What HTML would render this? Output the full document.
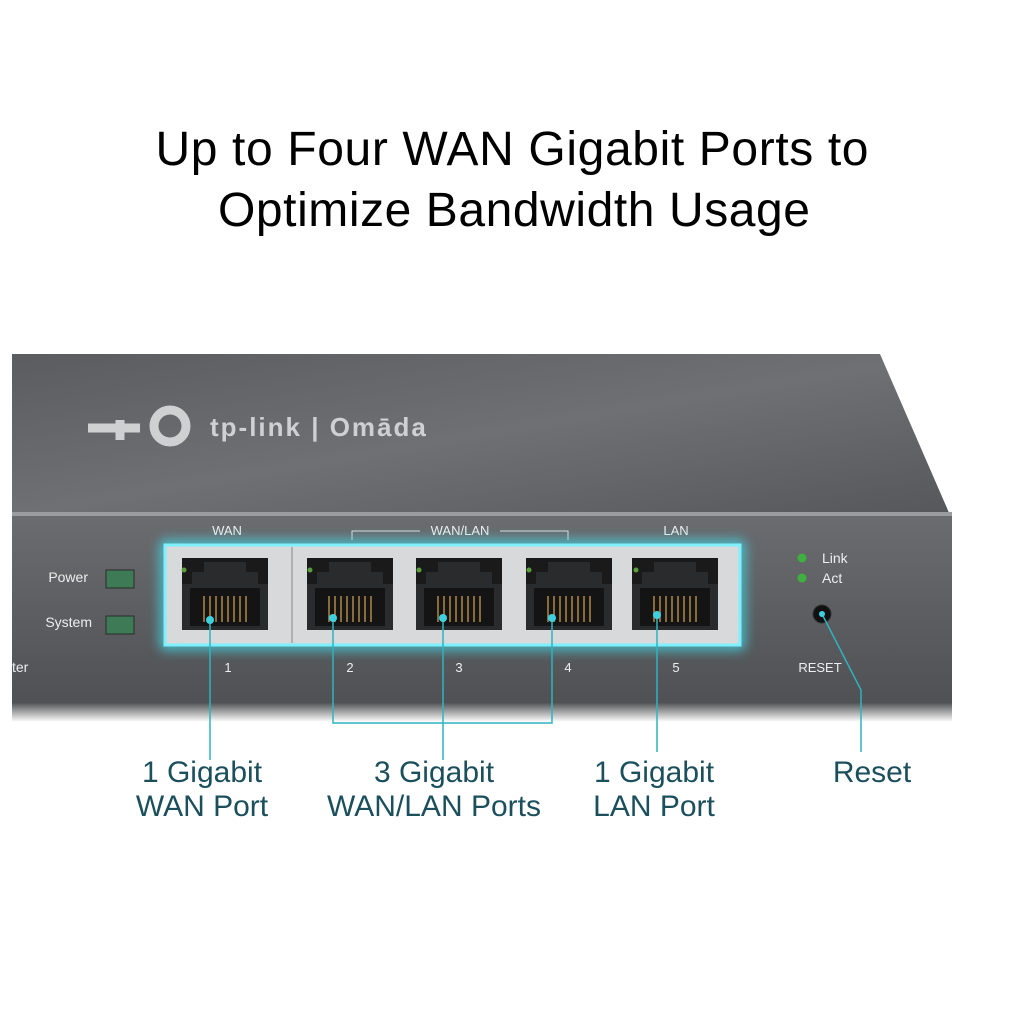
<!DOCTYPE html>
<html><head><meta charset="utf-8"><style>
html,body{margin:0;padding:0;background:#fff;}
body{width:1024px;height:1024px;overflow:hidden;}
</style></head><body>
<svg width="1024" height="1024" viewBox="0 0 1024 1024" xmlns="http://www.w3.org/2000/svg" font-family="Liberation Sans, sans-serif">
<defs>
<linearGradient id="top" x1="0" y1="0" x2="1" y2="1">
<stop offset="0" stop-color="#5a5c5f"/><stop offset="0.5" stop-color="#6e7073"/><stop offset="1" stop-color="#55575a"/>
</linearGradient>
<linearGradient id="front" x1="0" y1="0" x2="0" y2="1">
<stop offset="0" stop-color="#6a6c6f"/><stop offset="1" stop-color="#4f5154"/>
</linearGradient>
<linearGradient id="shadow" x1="0" y1="0" x2="0" y2="1">
<stop offset="0" stop-color="#3a3b3d"/><stop offset="1" stop-color="#ffffff"/>
</linearGradient>
<filter id="glow" x="-20%" y="-40%" width="140%" height="180%"><feGaussianBlur stdDeviation="6"/></filter>
<g id="port">
<rect x="0" y="0" width="86" height="72" fill="#1a1a1b"/>
<path d="M22 4 H64 V14 H76 V26 H86 V72 H0 V26 H10 V14 H22 Z" fill="#2a2b2c"/>
<rect x="8" y="30" width="70" height="38" fill="#141414"/>
<g stroke="#b08a4a" stroke-width="1.5">
<line x1="22" y1="38" x2="22" y2="64"/><line x1="28" y1="38" x2="28" y2="64"/><line x1="34" y1="38" x2="34" y2="64"/><line x1="40" y1="38" x2="40" y2="64"/><line x1="46" y1="38" x2="46" y2="64"/><line x1="52" y1="38" x2="52" y2="64"/><line x1="58" y1="38" x2="58" y2="64"/><line x1="64" y1="38" x2="64" y2="64"/>
</g>
</g>
</defs>
<text x="512" y="165" font-size="48" text-anchor="middle" fill="#000" textLength="713">Up to Four WAN Gigabit Ports to</text>
<text x="514" y="226" font-size="48" text-anchor="middle" fill="#000" textLength="592">Optimize Bandwidth Usage</text>

<rect x="12" y="700" width="940" height="22" fill="url(#shadow)"/>
<polygon points="12,354 880,354 950,515 12,515" fill="url(#top)"/>
<rect x="12" y="512" width="940" height="4" fill="#9a9c9e"/>
<rect x="12" y="516" width="940" height="186" fill="url(#front)"/>
<text x="210" y="436" font-size="26" fill="#cfd0d1" font-weight="bold" letter-spacing="2">tp-link | Omāda</text>
<path d="M88 428 H140 M120 420 V440" stroke="#cfd0d1" stroke-width="9"/>
<circle cx="170" cy="426" r="16" fill="none" stroke="#cfd0d1" stroke-width="9"/>

<text x="227" y="535" font-size="13" fill="#eee" text-anchor="middle">WAN</text>
<text x="460" y="535" font-size="13" fill="#eee" text-anchor="middle">WAN/LAN</text>
<path d="M352 540 V531 H420 M500 531 H568 V540" stroke="#ddd" fill="none"/>
<text x="676" y="535" font-size="13" fill="#eee" text-anchor="middle">LAN</text>
<text x="88" y="582" font-size="14" fill="#eee" text-anchor="end">Power</text>
<text x="92" y="627" font-size="14" fill="#eee" text-anchor="end">System</text>
<rect x="106" y="570" width="28" height="18" fill="#3d7a55" stroke="#2a2a2a"/>
<rect x="106" y="616" width="28" height="18" fill="#3d7a55" stroke="#2a2a2a"/>
<text x="12" y="672" font-size="14" fill="#eee">ter</text>

<rect x="165" y="545" width="575" height="100" fill="none" stroke="#3fe0f0" stroke-width="8" filter="url(#glow)"/>
<rect x="165" y="545" width="575" height="100" fill="#d8d9da" stroke="#7ff0ff" stroke-width="3"/>
<line x1="292" y1="547" x2="292" y2="643" stroke="#888"/>
<use href="#port" x="182" y="558"/>
<use href="#port" x="307" y="558"/>
<use href="#port" x="416" y="558"/>
<use href="#port" x="526" y="558"/>
<use href="#port" x="632" y="558"/>
<g fill="#5a9e3a"><circle cx="184" cy="570" r="2.5"/><circle cx="310" cy="570" r="2.5"/><circle cx="419" cy="570" r="2.5"/><circle cx="529" cy="570" r="2.5"/><circle cx="636" cy="570" r="2.5"/></g>

<g font-size="13" fill="#eee" text-anchor="middle">
<text x="228" y="672">1</text><text x="350" y="672">2</text><text x="459" y="672">3</text><text x="568" y="672">4</text><text x="676" y="672">5</text>
<text x="820" y="672">RESET</text>
</g>
<circle cx="802" cy="558" r="4.5" fill="#3fb03f"/><circle cx="802" cy="578" r="4.5" fill="#3fb03f"/>
<text x="822" y="563" font-size="14" fill="#eee">Link</text>
<text x="822" y="583" font-size="14" fill="#eee">Act</text>
<circle cx="822" cy="614" r="9" fill="#111" stroke="#333"/>

<g stroke="#2fb3c2" stroke-width="1.5" fill="none">
<line x1="210" y1="620" x2="210" y2="760"/>
<path d="M333 618 V723 H552 V618"/>
<line x1="443" y1="618" x2="443" y2="760"/>
<line x1="657" y1="615" x2="657" y2="752"/>
<path d="M822 614 L861 690 V752"/>
</g>
<g fill="#3fd0e0"><circle cx="210" cy="620" r="4"/><circle cx="333" cy="618" r="4"/><circle cx="443" cy="618" r="4"/><circle cx="552" cy="618" r="4"/><circle cx="657" cy="615" r="4"/><circle cx="822" cy="614" r="3"/></g>

<g font-size="30" fill="#1b4f5c" text-anchor="middle">
<text x="202" y="782">1 Gigabit</text><text x="202" y="816">WAN Port</text>
<text x="434" y="782">3 Gigabit</text><text x="434" y="816">WAN/LAN Ports</text>
<text x="654" y="782">1 Gigabit</text><text x="654" y="816">LAN Port</text>
<text x="872" y="782">Reset</text>
</g>
</svg>
</body></html>
